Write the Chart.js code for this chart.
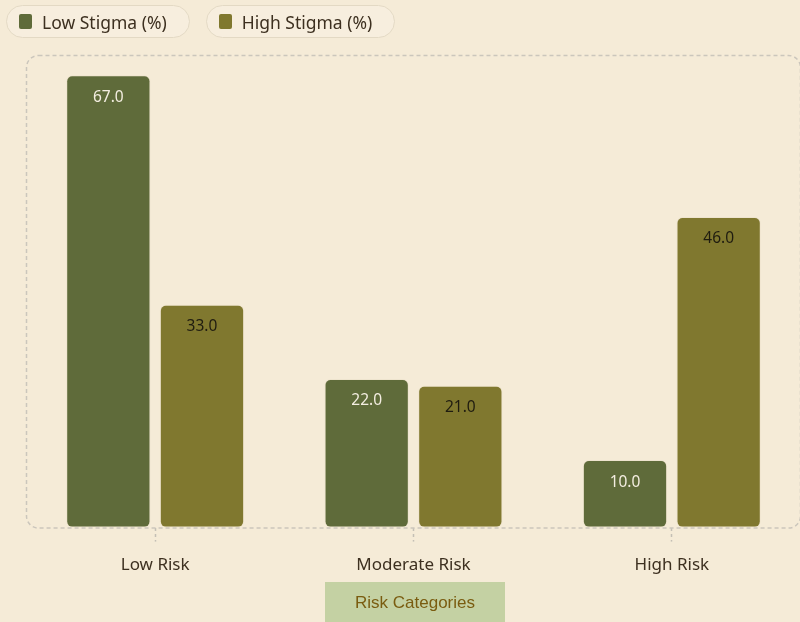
<!DOCTYPE html>
<html>
<head>
<meta charset="utf-8">
<script src="https://cdn.jsdelivr.net/npm/chart.js@4/dist/chart.umd.min.js"></script>
<style>
  html, body { margin: 0; padding: 0; background: #f5ebd7; overflow: hidden; }
  body { width: 800px; height: 622px; position: relative; font-family: "Noto Sans", sans-serif; }
  #wrap { position: absolute; left: 0; top: 0; width: 804px; height: 622px; }
  #legend { position: absolute; left: 6px; top: 5px; display: flex; gap: 16px; z-index: 2; }
  .pill {
    display: flex; align-items: center; height: 31px; padding: 0 22px 0 12px;
    border: 1.5px solid #e3d9c4; border-radius: 17px; background: #f7eede;
    font-size: 17.5px; color: #3d3020;
  }
  .pill .sw { width: 13px; height: 15px; border-radius: 2px; margin-right: 10px; }
</style>
</head>
<body>
<div id="legend"></div>
<div id="wrap"><canvas id="riskChart" width="804" height="622"></canvas></div>
<script>
// Stigma share per risk category
const categories = ['Low Risk', 'Moderate Risk', 'High Risk'];
const lowStigma = [67.0, 22.0, 10.0];
const highStigma = [33.0, 21.0, 46.0];
const seriesNames = ['Low Stigma (%)', 'High Stigma (%)'];
const axisTitle = 'Risk Categories';

const COLORS = ['#5f6b3a', '#80782f'];
const LABEL_COLORS = ['#f3ede0', '#1f1c10'];

// dashed rounded frame around the plot area
const framePlugin = {
  id: 'frame',
  beforeDatasetsDraw(chart) {
    const { ctx, chartArea: a } = chart;
    ctx.save();
    ctx.strokeStyle = '#cbc6bc';
    ctx.lineWidth = 1.5;
    ctx.setLineDash([4, 3]);
    ctx.beginPath();
    ctx.roundRect(a.left + 0.5, a.top + 0.5, a.right - a.left - 1, a.bottom - a.top, 12);
    ctx.stroke();
    ctx.restore();
  }
};

// value text inside the top of each bar
const valueLabels = {
  id: 'valueLabels',
  afterDatasetsDraw(chart) {
    const { ctx } = chart;
    ctx.save();
    ctx.font = '15.5px "Noto Sans", sans-serif';
    ctx.textAlign = 'center';
    ctx.textBaseline = 'middle';
    chart.data.datasets.forEach((ds, di) => {
      chart.getDatasetMeta(di).data.forEach((bar, i) => {
        ctx.fillStyle = LABEL_COLORS[di];
        ctx.fillText(ds.data[i].toFixed(1), bar.x, bar.y + 22);
      });
    });
    ctx.restore();
  }
};

// axis title on a green band under the tick labels
const axisTitleBox = {
  id: 'axisTitleBox',
  afterDraw(chart) {
    const { ctx } = chart;
    const cx = 415, w = 180, h = 40, top = 582;
    ctx.save();
    ctx.fillStyle = '#c4d1a3';
    ctx.fillRect(cx - w / 2, top, w, h);
    ctx.fillStyle = '#7a5c10';
    ctx.font = '17px "Liberation Sans", Arial, sans-serif';
    ctx.textAlign = 'center';
    ctx.textBaseline = 'middle';
    ctx.fillText(axisTitle, cx, top + 21);
    ctx.restore();
  }
};

const chart = new Chart(document.getElementById('riskChart'), {
  type: 'bar',
  data: {
    labels: categories,
    datasets: [lowStigma, highStigma].map((vals, i) => ({
      label: seriesNames[i],
      data: vals,
      backgroundColor: COLORS[i],
      borderColor: 'rgba(225,215,190,0.35)',
      borderWidth: 1,
      borderRadius: 6,
      borderSkipped: false,
      categoryPercentage: 0.725,
      barPercentage: 0.9,
    })),
  },
  options: {
    responsive: false,
    animation: false,
    layout: { padding: { left: 26, right: 3, top: 55, bottom: 34 } },
    plugins: { legend: { display: false }, tooltip: { enabled: false } },
    scales: {
      x: {
        grid: {
          offset: false,
          drawOnChartArea: false,
          tickLength: 14,
          tickColor: '#c4bfb5',
          tickWidth: 1.5,
          tickBorderDash: [3, 3],
        },
        border: { display: false },
        ticks: { color: '#3d3020', font: { family: '"Noto Sans", sans-serif', size: 17 }, padding: 13 },
      },
      y: { display: false, min: 0, max: 70 },
    },
  },
  plugins: [framePlugin, valueLabels, axisTitleBox],
});

// legend pills from the chart's datasets
const legend = document.getElementById('legend');
chart.data.datasets.forEach(ds => {
  const pill = document.createElement('div');
  pill.className = 'pill';
  pill.innerHTML = `<span class="sw" style="background:${ds.backgroundColor}"></span>${ds.label}`;
  legend.appendChild(pill);
});
</script>
</body>
</html>
